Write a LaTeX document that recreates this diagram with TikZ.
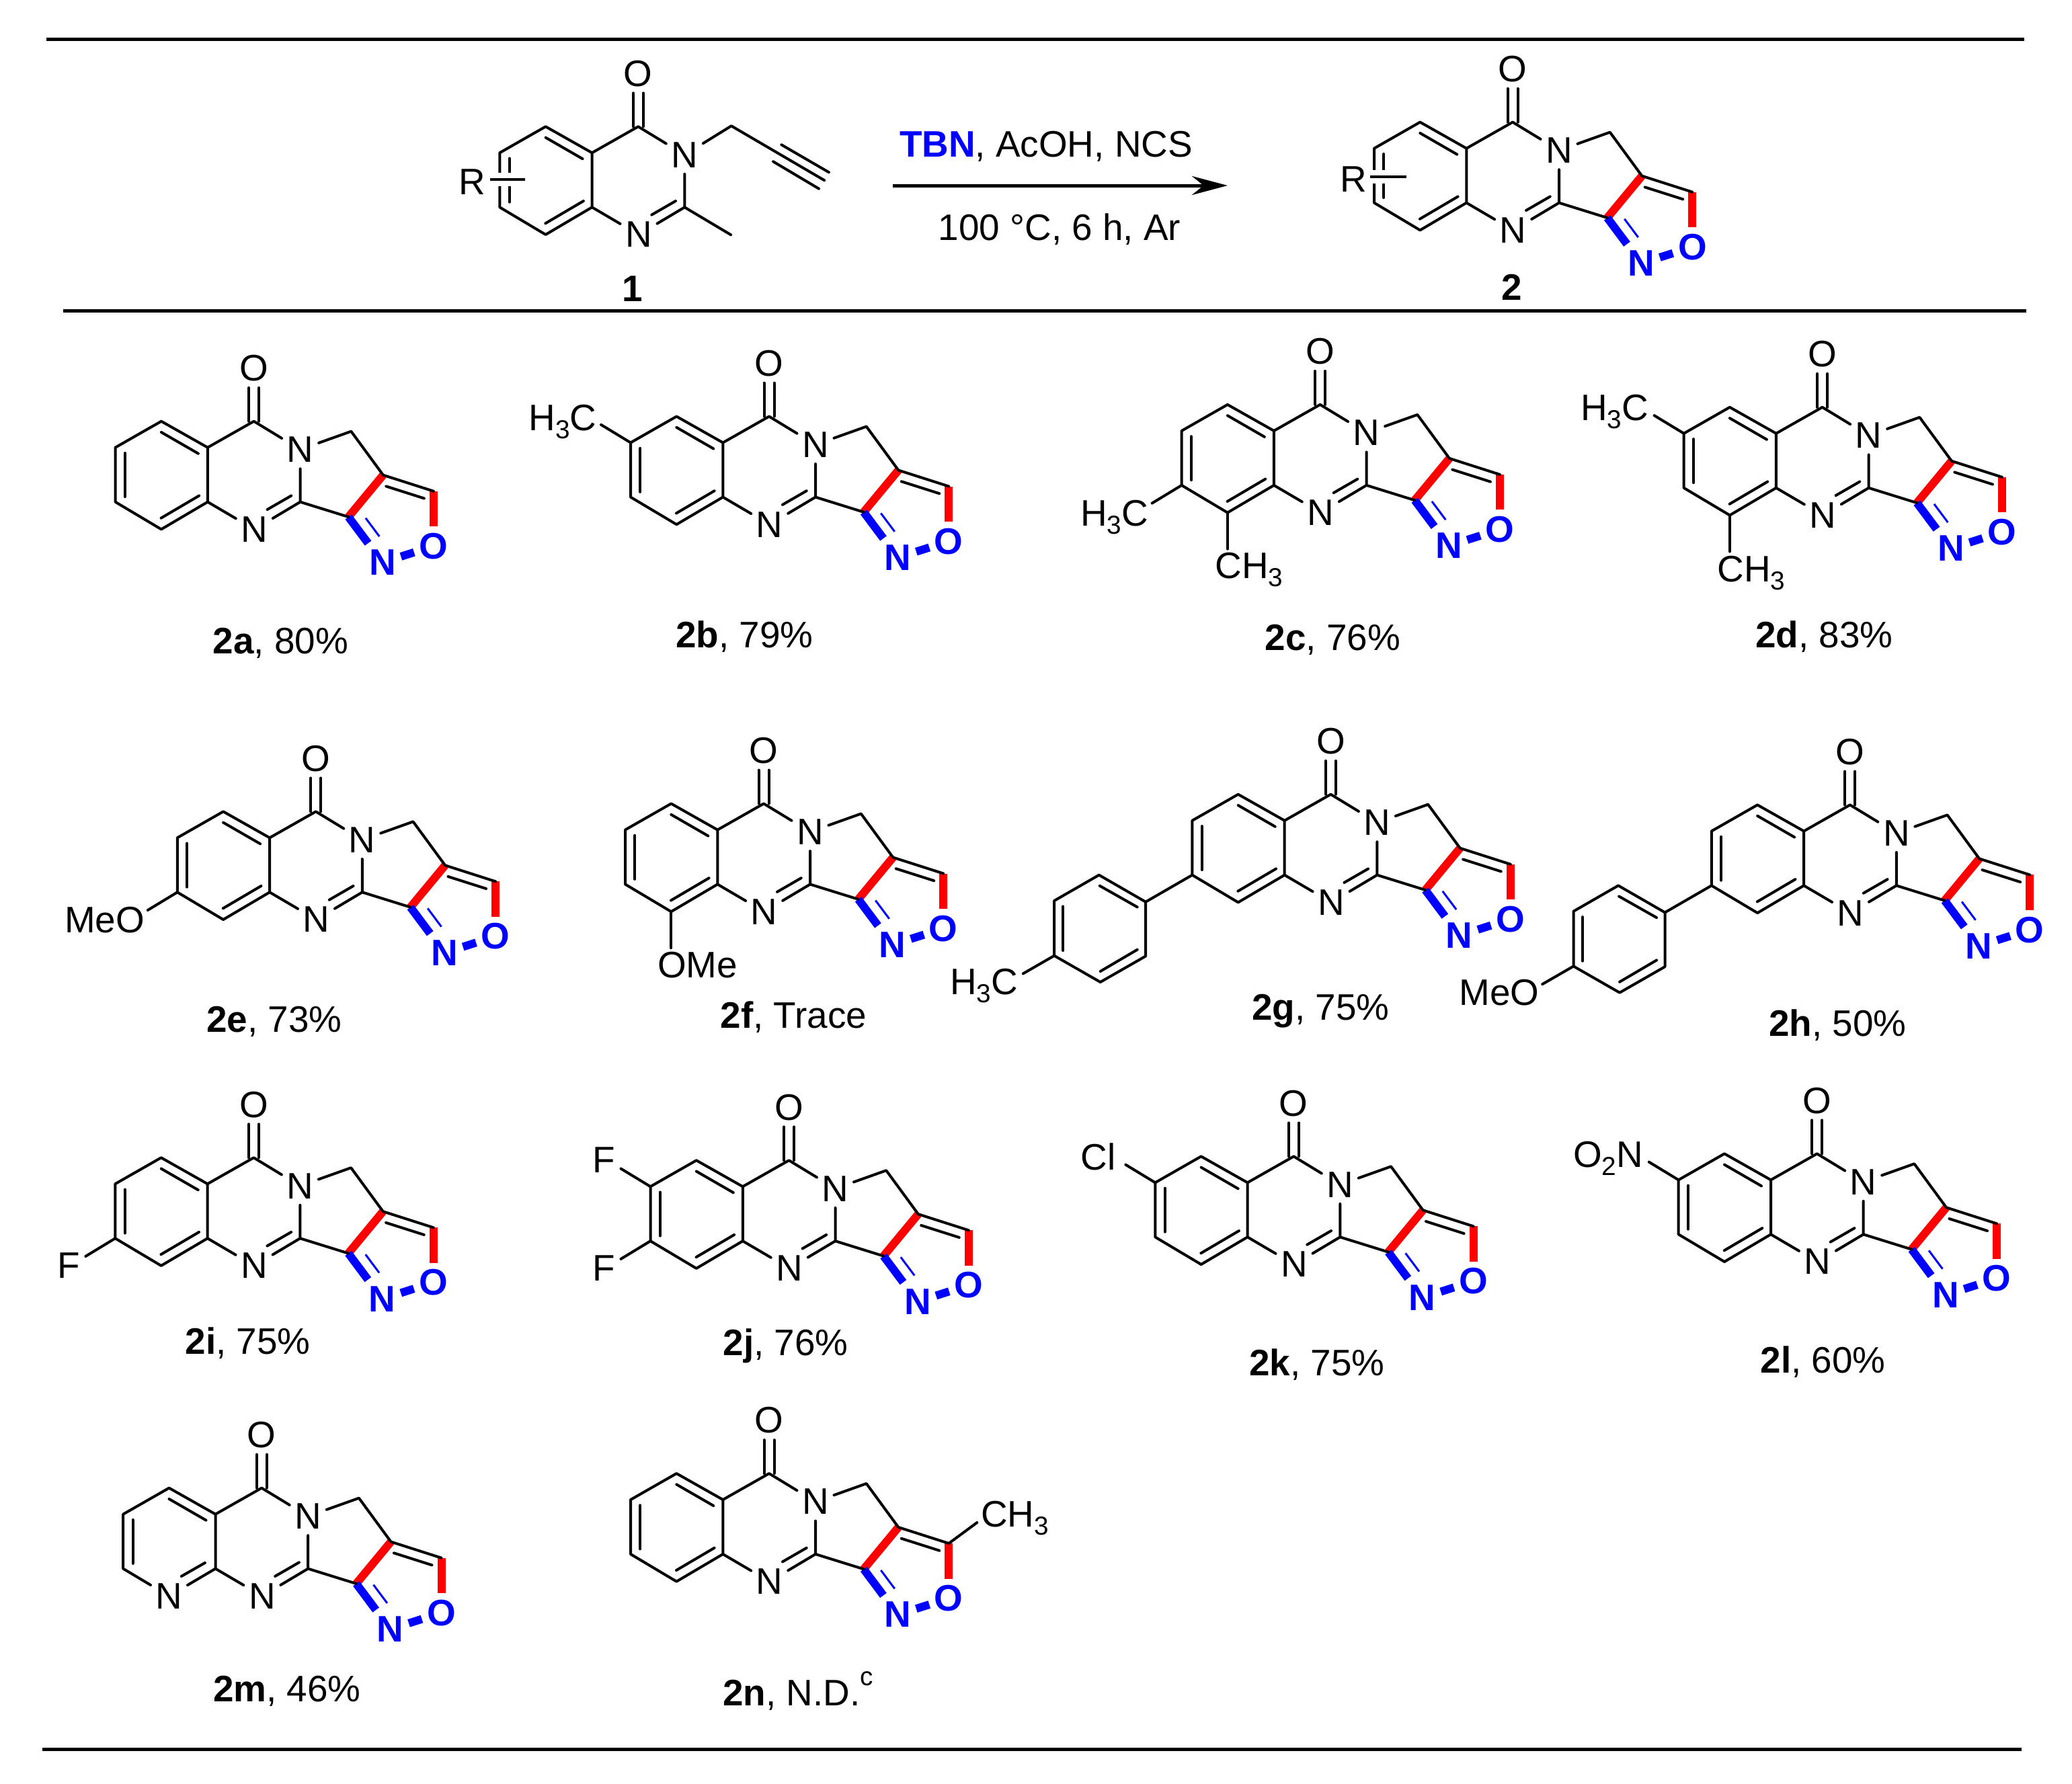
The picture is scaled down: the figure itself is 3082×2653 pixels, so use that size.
\documentclass[tikz,border=0pt]{standalone}
\usepackage{fontspec}
\setmainfont{Liberation Sans}
\usetikzlibrary{arrows.meta,calc}

\newcommand{\lowered}[1]{\raisebox{-.22em}{\fontsize{11}{11}\selectfont #1}}
\newcommand{\raised}[1]{\raisebox{.55em}{\fontsize{11}{11}\selectfont #1}}

\tikzset{
  bond/.style={line width=.04cm,line cap=round,line join=round},
  redbond/.style={line width=.12cm,red},
  bluebond/.style={line width=.12cm,blue},
  thinblue/.style={line width=.03cm,blue},
  hrule/.style={line width=.05cm},
  atom/.style={inner xsep=.07cm,inner ysep=.09cm,font=\fontsize{15.6}{18}\selectfont},
  blueatom/.style={atom,blue,font=\fontsize{15.6}{18}\selectfont\bfseries},
  lab/.style={inner sep=0pt,font=\fontsize{15.6}{18}\selectfont},
}

% pyrimidinone ring, carbonyl carbon at the origin of the scope
\newcommand{\pyrim}[1]{
  \coordinate (#1c4) at (0,0);
  \coordinate (#1b2) at (-68.7,39);
  \coordinate (#1b3) at (-68.7,120);
  \coordinate (#1c2) at (69,120);
  \node[atom] (#1o4) at (0,-79) {O};
  \node[atom] (#1n3) at (69,42) {N};
  \node[atom] (#1n1) at (.7,160.7) {N};
  \draw[bond] (#1b2) -- (#1b3) -- (#1n1) -- (#1c2) -- (#1n3) -- (#1c4) -- (#1b2);
  \draw[bond] (55.7,110.7) -- (20,131.3);
  \draw[bond] ([xshift=-.075cm]#1c4) -- ([xshift=-.075cm]#1o4.south);
  \draw[bond] ([xshift=.075cm]#1c4) -- ([xshift=.075cm]#1o4.south);
}
% benzene ring on b2-b3
\newcommand{\benzo}[1]{
  \coordinate (#1b1) at (-137.7,0);
  \coordinate (#1b4) at (-137.7,160.7);
  \coordinate (#1b5) at (-206,120);
  \coordinate (#1b6) at (-206,39);
  \draw[bond] (#1b2) -- (#1b1) -- (#1b6) -- (#1b5) -- (#1b4) -- (#1b3);
  \draw[bond] (-137.7,16.3) -- (-82.7,48);
  \draw[bond] (-191.7,47.3) -- (-191.7,112.3);
  \draw[bond] (-81.4,110.7) -- (-138,144);
}
% pyrrole and isoxazole rings
\newcommand{\isox}[1]{
  \coordinate (#1c5) at (144.7,15);
  \coordinate (#1c6) at (192.3,80);
  \coordinate (#1c7) at (140.7,142.3);
  \coordinate (#1c8) at (267.3,104);
  \node[blueatom] (#1oi) at (267.3,185.7) {O};
  \node[blueatom] (#1ni) at (191.3,210) {N};
  \draw[redbond] (#1c6) -- (#1c7);
  \draw[redbond] (#1c8) -- (#1oi);
  \draw[bluebond] (#1c7) -- (#1ni);
  \draw[bluebond] (#1ni) -- (#1oi);
  \draw[thinblue] (166.3,144) -- (186.7,171.3);
  \draw[bond] (#1n3) -- (#1c5) -- (#1c6) -- (#1c8);
  \draw[bond] (#1c2) -- (#1c7);
  \draw[bond] (196.7,96.7) -- (253.3,114.7);
}
% para substituted phenyl, bound to the point #2
\newcommand{\aryl}[2]{
  \begin{scope}[shift={(#2)}]
    \coordinate (#1a1) at (-69.3,40);
    \coordinate (#1a2) at (-138.7,0);
    \coordinate (#1a3) at (-205.3,38.3);
    \coordinate (#1a4) at (-205.3,120);
    \coordinate (#1a5) at (-136.7,159.3);
    \coordinate (#1a6) at (-69.3,120.7);
    \draw[bond] (#2) -- (#1a1) -- (#1a2) -- (#1a3) -- (#1a4) -- (#1a5) -- (#1a6) -- (#1a1);
    \draw[bond] (-81.7,47.7) -- (-137.7,16);
    \draw[bond] (-192,46.7) -- (-192,112.3);
    \draw[bond] (-136.7,143.3) -- (-81.7,111);
  \end{scope}
}

\begin{document}
\begin{tikzpicture}[x=.01cm,y=-.01cm]
  \path[use as bounding box] (0,0) rectangle (3082,2653);

  \draw[hrule] (69,58) -- (3011,58);
  \draw[hrule] (94,462) -- (3014,462);
  \draw[hrule] (63,2602) -- (3007,2602);

  % starting material
  \begin{scope}[shift={(949.3,188.3)}]
    \pyrim{one}
    \benzo{one}
    \coordinate (onec5) at (138.5,-1);
    \coordinate (onec6) at (277,80);
    \coordinate (onec7) at (137.8,161);
    \draw[bond] (onen3) -- (onec5) -- (onec6);
    \draw[bond] (213,27) -- (283.6,68);
    \draw[bond] (200.7,52) -- (268.7,92.4);
    \draw[bond] (onec2) -- (onec7);
    \draw[bond,line cap=butt,preaction={draw,white,line width=.2cm}] (-220.6,79) -- (-168,79);
    \node[lab,anchor=base east] (oner) at (-226,101) {R};
  \end{scope}

  % reaction arrow
  \coordinate (arrowa) at (1328,276);
  \coordinate (arrowb) at (1826,276);
  \draw[hrule,-{Stealth[length=.53cm,width=.28cm]}] (arrowa) -- (arrowb);
  \node[lab,anchor=base] (cond1) at (1556,233) {\textcolor{blue}{\bfseries TBN}, AcOH, NCS};
  \node[lab,anchor=base] (cond2) at (1576,357) {100 °C, 6 h, Ar};

  % product
  \begin{scope}[shift={(2250,181.7)}]
    \pyrim{two}
    \benzo{two}
    \isox{two}
    \draw[bond,line cap=butt,preaction={draw,white,line width=.2cm}] (-212,81) -- (-158.5,81);
    \node[lab,anchor=base east] (twor) at (-216,103.3) {R};
  \end{scope}

  % all the examples with a benzene ring
  \foreach \nm/\px/\py in {2a/377.6/626.7,2b/1144/619.5,2c/1963.6/601.9,2d/2710.6/605.8,
                           2e/469.8/1207.3,2f/1136/1195.5,2g/1979.4/1181.7,2h/2751.8/1197.4,
                           2i/377.4/1722.2,2j/1173.5/1726.2,2k/1924.3/1720.3,2l/2702.7/1716.3,
                           2n/1144/2192}{
    \begin{scope}[shift={(\px,\py)}]
      \pyrim{\nm}
      \benzo{\nm}
      \isox{\nm}
    \end{scope}
  }

  % 2m has a pyridine ring
  \begin{scope}[shift={(389.2,2213.6)}]
    \pyrim{2m}
    \isox{2m}
    \coordinate (2mb1) at (-137.7,0);
    \coordinate (2mb5) at (-206,120);
    \coordinate (2mb6) at (-206,39);
    \node[atom] (2mn8) at (-137.7,160.7) {N};
    \draw[bond] (2mb2) -- (2mb1) -- (2mb6) -- (2mb5) -- (2mn8) -- (2mb3);
    \draw[bond] (-137.7,16.3) -- (-82.7,48);
    \draw[bond] (-191.7,47.3) -- (-191.7,112.3);
    \draw[bond] (-84.3,111.3) -- (-119.3,131.3);
  \end{scope}

  % substituents
  \draw[bond] (2bb6) -- ++(-44,-26.7) coordinate (2bm);
  \node[lab,anchor=base east] (2bme) at ($(2bm)+(-6,9)$) {H\lowered{3}C};

  \draw[bond] (2cb5) -- ++(-44,26.7) coordinate (2cm);
  \node[lab,anchor=base east] (2cme) at ($(2cm)+(-5,34)$) {H\lowered{3}C};
  \draw[bond] (2cb4) -- ++(0,54) coordinate (2cn);
  \node[lab,anchor=base west] (2cmf) at ($(2cn)+(-19,44)$) {CH\lowered{3}};

  \draw[bond] (2db6) -- ++(-44,-26.7) coordinate (2dm);
  \node[lab,anchor=base east] (2dme) at ($(2dm)+(-8,7)$) {H\lowered{3}C};
  \draw[bond] (2db4) -- ++(0,54) coordinate (2dn);
  \node[lab,anchor=base west] (2dmf) at ($(2dn)+(-19,45)$) {CH\lowered{3}};

  \draw[bond] (2eb5) -- ++(-44,26.7) coordinate (2em);
  \node[lab,anchor=base east] (2eme) at ($(2em)+(-4,33)$) {MeO};

  \draw[bond] (2fb4) -- ++(0,54) coordinate (2fm);
  \node[lab,anchor=base west] (2fme) at ($(2fm)+(-21,44)$) {OMe};

  \aryl{2g}{2gb5}
  \draw[bond] (2ga4) -- ++(-46.3,26.7) coordinate (2gm);
  \node[lab,anchor=base east] (2gme) at ($(2gm)+(-7,31)$) {H\lowered{3}C};

  \aryl{2h}{2hb5}
  \draw[bond] (2ha4) -- ++(-46.3,26.7) coordinate (2hm);
  \node[lab,anchor=base east] (2hme) at ($(2hm)+(-4,31)$) {MeO};

  \draw[bond] (2ib5) -- ++(-44,26.7) coordinate (2im);
  \node[lab,anchor=base east] (2ime) at ($(2im)+(-8,33)$) {F};

  \draw[bond] (2jb6) -- ++(-44,-26.7) coordinate (2jm);
  \node[lab,anchor=base east] (2jme) at ($(2jm)+(-8,6)$) {F};
  \draw[bond] (2jb5) -- ++(-44,26.7) coordinate (2jn);
  \node[lab,anchor=base east] (2jmf) at ($(2jn)+(-8,33)$) {F};

  \draw[bond] (2kb6) -- ++(-44,-26.7) coordinate (2km);
  \node[lab,anchor=base east] (2kme) at ($(2km)+(-14,8)$) {Cl};

  \draw[bond] (2lb6) -- ++(-44,-26.7) coordinate (2lm);
  \node[lab,anchor=base east] (2lme) at ($(2lm)+(-8,8)$) {O\lowered{2}N};

  \draw[bond] (2nc8) -- ++(42,-31) coordinate (2nm);
  \node[lab,anchor=base west] (2nme) at ($(2nm)+(5,6)$) {CH\lowered{3}};

  % names and yields
  \node[lab,anchor=base] (nameone) at (941,448) {\bfseries 1};
  \node[lab,anchor=base] (nametwo) at (2249,446) {\bfseries 2};
  \foreach \nm/\px/\py/\yld in {2a/417.3/972/80\%,2b/1107.6/963/79\%,2c/1982.3/967/76\%,2d/2713.5/963/83\%,
                                2e/407.9/1535/73\%,2f/1180.4/1529/Trace,2g/1964.6/1517/75\%,2h/2733.2/1541/50\%,
                                2i/368.6/2014.6/75\%,2j/1168.6/2016.5/76\%,2k/1958.7/2046/75\%,2l/2711.6/2042/60\%,
                                2m/427/2531.5/46\%,2n/1187.2/2537.5/N.D.\raised{c}}{
    \node[lab,anchor=base] (name\nm) at (\px,\py) {\textbf{\nm}, \yld};
  }
\end{tikzpicture}
\end{document}
